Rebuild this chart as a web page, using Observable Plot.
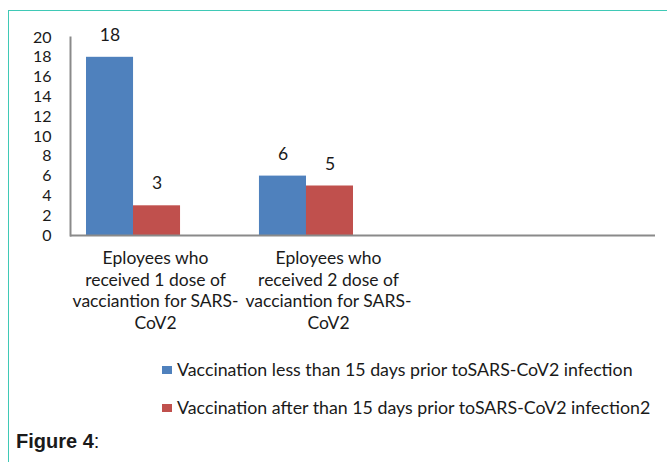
<!DOCTYPE html>
<html><head><meta charset="utf-8">
<script src="https://cdn.jsdelivr.net/npm/d3@7"></script>
<script src="https://cdn.jsdelivr.net/npm/@observablehq/plot@0.6"></script>
<style>
body{margin:0;background:#fff;font-family:Lato,sans-serif;width:667px;height:462px;overflow:hidden;position:relative;}
#frame{position:absolute;left:8px;top:10px;width:700px;height:500px;border-left:1.5px solid #3fc9b6;border-top:1.5px solid #3fc9b6;}
#chart{position:absolute;left:0;top:0;}
.leg{position:absolute;left:162px;font-size:17.8px;line-height:21px;color:#1a1a1a;display:flex;align-items:center;white-space:nowrap;}
.sw{width:10px;height:8px;margin-right:5px;}
#cap{position:absolute;left:16px;top:430px;font-family:"Liberation Sans",Arial,sans-serif;font-size:20px;color:#1a1a1a;}
</style></head><body>
<div id="frame"></div>
<div id="chart"></div>
<div id="legend"></div>
<div id="cap"><b>Figure 4</b>:</div>
<script>
const categories = ["Eployees who received 1 dose of vacciantion for SARS-CoV2", "Eployees who received 2 dose of vacciantion for SARS-CoV2"];
const categoryLines = [["Eployees who", "received 1 dose of", "vacciantion for SARS-", "CoV2"], ["Eployees who", "received 2 dose of", "vacciantion for SARS-", "CoV2"]];
const series = ["Vaccination less than 15 days prior toSARS-CoV2 infection", "Vaccination after than 15 days prior toSARS-CoV2 infection2"];
const lessThan15 = [18, 6];
const afterThan15 = [3, 5];
const colors = ["#4f81bd", "#c0504d"];
const yTicks = [0, 2, 4, 6, 8, 10, 12, 14, 16, 18, 20];

const seriesValues = [lessThan15, afterThan15];
const offsets = [-23.5, 23.5];
const tables = series.map((s, i) => categories.map((c, j) => ({category: c, series: s, value: seriesValues[i][j]})));

const marks = [];
tables.forEach((t, i) => {
  marks.push(Plot.barY(t, {x: "category", y: "value", fill: colors[i], dx: offsets[i], insetLeft: 0, insetRight: 0}));
  marks.push(Plot.text(t, {x: "category", y: "value", text: d => String(d.value), dx: offsets[i], dy: -22, fontSize: 17.5, fill: "#1a1a1a"}));
});

const chart = Plot.plot({
  width: 667,
  height: 340,
  marginLeft: 70,
  marginRight: 12,
  marginTop: 37,
  marginBottom: 105,
  style: {fontFamily: "Lato, sans-serif", background: "transparent", color: "#1a1a1a"},
  x: {type: "band", domain: categories, range: [109.5, 329.5], paddingInner: 0.728, paddingOuter: 0, align: 0.5, round: false},
  y: {domain: [0, 20]},
  marks: [
    ...marks,
    Plot.ruleY([0], {stroke: "#8a8a8a", strokeWidth: 2}),
    Plot.frame({anchor: "left", stroke: "#8a8a8a", strokeWidth: 2}),
    Plot.axisY({ticks: yTicks, tickSize: 0, tickPadding: 19, fontSize: 16, label: null}),
    Plot.axisX({tickSize: 0, tickPadding: 13, fontSize: 17.5, lineHeight: 1.24, dx: 22, label: null,
      tickFormat: d => categoryLines[categories.indexOf(d)].join("\n")})
  ]
});
document.getElementById("chart").appendChild(chart);

const legend = document.getElementById("legend");
series.forEach((s, i) => {
  const item = document.createElement("div");
  item.className = "leg";
  item.style.top = (359 + i * 38) + "px";
  const sw = document.createElement("span");
  sw.className = "sw";
  sw.style.background = colors[i];
  item.appendChild(sw);
  const tx = document.createElement("span");
  tx.textContent = s;
  item.appendChild(tx);
  legend.appendChild(item);
});
</script>
</body></html>
